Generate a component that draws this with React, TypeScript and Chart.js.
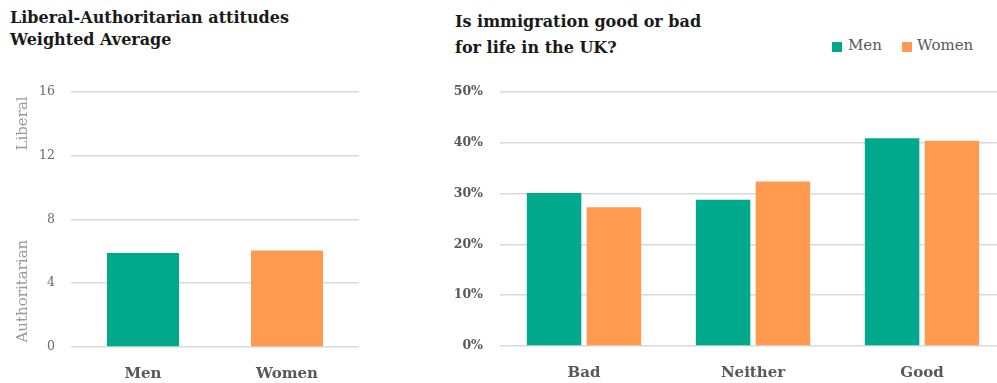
import React, { useEffect, useRef } from "react";
import { Chart, registerables } from "chart.js";

Chart.register(...registerables);

// ---- data ----
const leftCategories = ["Men", "Women"];
const leftValues = [5.88, 6.05];
const leftTickStep = 4;
const leftMax = 16;
const leftSideLabels = ["Liberal", "Authoritarian"];
const leftSideLabelValues = [14, 3.5];

const rightCategories = ["Bad", "Neither", "Good"];
const seriesNames = ["Men", "Women"];
const menValues = [30.1, 28.8, 40.9];
const womenValues = [27.3, 32.4, 40.4];
const rightTickStep = 10;
const rightMax = 50;

const leftTitle = ["Liberal-Authoritarian attitudes", "Weighted Average"];
const rightTitle = ["Is immigration good or bad", "for life in the UK?"];

// ---- style ----
const TEAL = "#00A98B";
const ORANGE = "#FF9A50";
const SERIF = '"DejaVu Serif", serif';
const GRID = "#d9d9d9";
const TICK = "#595959";

const sideLabelPlugin = {
  id: "sideLabels",
  afterDraw(chart: any) {
    const { ctx } = chart;
    const y = chart.scales.y;
    ctx.save();
    ctx.font = `15px ${SERIF}`;
    ctx.fillStyle = "#9a9a9a";
    ctx.textAlign = "center";
    ctx.textBaseline = "middle";
    leftSideLabels.forEach((t, i) => {
      const py = y.getPixelForValue(leftSideLabelValues[i]);
      ctx.save();
      ctx.translate(23, py);
      ctx.rotate(-Math.PI / 2);
      ctx.fillText(t, 0, 0);
      ctx.restore();
    });
    ctx.restore();
  },
};

function LeftChart() {
  const ref = useRef<HTMLCanvasElement>(null);
  useEffect(() => {
    const chart = new Chart(ref.current!, {
      type: "bar",
      data: {
        labels: leftCategories,
        datasets: [
          {
            data: leftValues,
            backgroundColor: [TEAL, ORANGE],
            barPercentage: 0.5,
            categoryPercentage: 1,
          },
        ],
      },
      options: {
        animation: false,
        responsive: false,
        maintainAspectRatio: false,
        layout: { padding: { top: 0, right: 13, left: 0, bottom: 0 } },
        plugins: { legend: { display: false }, tooltip: { enabled: false } },
        scales: {
          x: {
            grid: { display: false },
            border: { display: false },
            ticks: {
              font: { family: SERIF, size: 15, weight: "bold" },
              color: TICK,
              padding: 10,
            },
            afterFit: (s: any) => {
              s.height = 36;
            },
          },
          y: {
            min: 0,
            max: leftMax,
            ticks: {
              stepSize: leftTickStep,
              font: { family: SERIF, size: 12.5 },
              color: "#6a6a6a",
              padding: 16,
            },
            grid: { color: GRID, lineWidth: 1.5, drawTicks: false },
            border: { display: false },
            afterFit: (s: any) => {
              s.width = 71;
            },
          },
        },
      } as any,
      plugins: [sideLabelPlugin],
    });
    return () => chart.destroy();
  }, []);
  return (
    <canvas
      ref={ref}
      width={372}
      height={315}
      style={{ position: "absolute", left: 0, top: 68, width: 372, height: 315 }}
    />
  );
}

function RightChart() {
  const ref = useRef<HTMLCanvasElement>(null);
  useEffect(() => {
    const chart = new Chart(ref.current!, {
      type: "bar",
      data: {
        labels: rightCategories,
        datasets: [
          {
            label: seriesNames[0],
            data: menValues,
            backgroundColor: TEAL,
            barPercentage: 0.911,
            categoryPercentage: 0.708,
          },
          {
            label: seriesNames[1],
            data: womenValues,
            backgroundColor: ORANGE,
            barPercentage: 0.911,
            categoryPercentage: 0.708,
          },
        ],
      },
      options: {
        animation: false,
        responsive: false,
        maintainAspectRatio: false,
        layout: { padding: { top: 0, right: 3.5, left: 0, bottom: 0 } },
        plugins: { legend: { display: false }, tooltip: { enabled: false } },
        scales: {
          x: {
            grid: { display: false },
            border: { display: false },
            ticks: {
              font: { family: SERIF, size: 15, weight: "bold" },
              color: TICK,
              padding: 10,
            },
            afterFit: (s: any) => {
              s.height = 37;
            },
          },
          y: {
            min: 0,
            max: rightMax,
            ticks: {
              stepSize: rightTickStep,
              font: { family: SERIF, size: 12.5, weight: "bold" },
              color: TICK,
              padding: 16.5,
              callback: (v: any) => `${v}%`,
            },
            grid: { color: GRID, lineWidth: 1.5, drawTicks: false },
            border: { display: false },
            afterFit: (s: any) => {
              s.width = 79.5;
            },
          },
        },
      } as any,
    });
    return () => chart.destroy();
  }, []);
  return (
    <canvas
      ref={ref}
      width={590}
      height={315}
      style={{ position: "absolute", left: 420, top: 68, width: 590, height: 315 }}
    />
  );
}

export default function App() {
  const titleStyle: React.CSSProperties = {
    position: "absolute",
    fontFamily: SERIF,
    fontWeight: "bold",
    fontSize: 16,
    color: "#1a1a1a",
    whiteSpace: "nowrap",
  };
  const legendText: React.CSSProperties = {
    position: "absolute",
    fontFamily: SERIF,
    fontSize: 15,
    color: TICK,
    lineHeight: "15px",
    top: 38,
  };
  return (
    <div
      style={{
        position: "absolute",
        left: 0,
        top: 0,
        width: 997,
        height: 383,
        overflow: "hidden",
        background: "#fff",
      }}
    >
      <div style={{ ...titleStyle, left: 10, top: 7, lineHeight: "21.7px" }}>
        {leftTitle.map((t) => (
          <div key={t}>{t}</div>
        ))}
      </div>
      <div style={{ ...titleStyle, left: 455, top: 9, lineHeight: "26px" }}>
        {rightTitle.map((t) => (
          <div key={t}>{t}</div>
        ))}
      </div>
      <div style={{ position: "absolute", left: 832, top: 42, width: 10, height: 10, background: TEAL }} />
      <div style={{ ...legendText, left: 848 }}>{seriesNames[0]}</div>
      <div style={{ position: "absolute", left: 902, top: 42, width: 10, height: 10, background: ORANGE }} />
      <div style={{ ...legendText, left: 917 }}>{seriesNames[1]}</div>
      <LeftChart />
      <RightChart />
    </div>
  );
}
